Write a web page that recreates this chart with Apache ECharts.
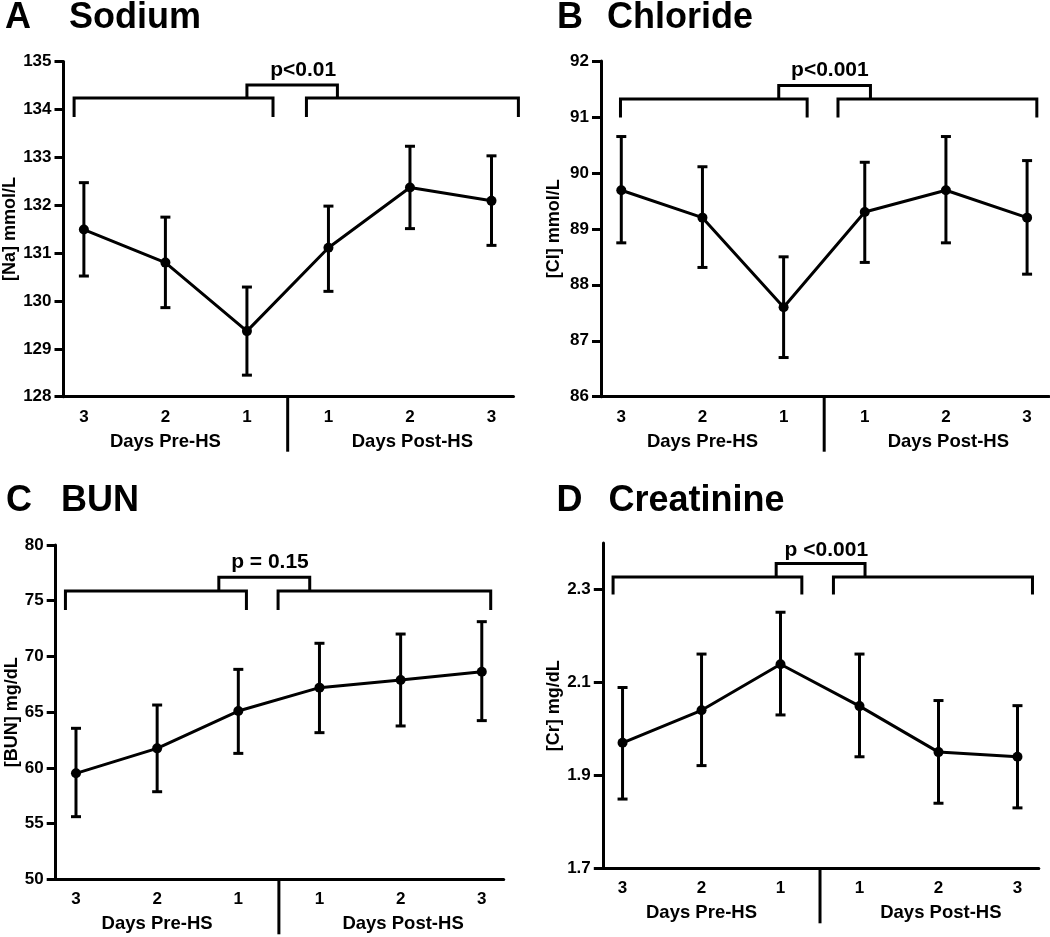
<!DOCTYPE html>
<html><head><meta charset="utf-8">
<script src="https://cdn.jsdelivr.net/npm/echarts@6/dist/echarts.min.js"></script>
<style>html,body{margin:0;padding:0;background:#fff}#chart{width:1050px;height:937px}</style>
</head><body><div id="chart"></div>
<script>
// ---- data ----
const dayPositions = [1, 2, 3, 4, 5, 6];
const dayTickLabels = ['3', '2', '1', '1', '2', '3'];
const groupLabels = ['Days Pre-HS', 'Days Post-HS'];
const panelLetters = ['A', 'B', 'C', 'D'];
const panelTitles = ['Sodium', 'Chloride', 'BUN', 'Creatinine'];
const yAxisNames = ['[Na] mmol/L', '[Cl] mmol/L', '[BUN] mg/dL', '[Cr] mg/dL'];
const pLabels = ['p<0.01', 'p<0.001', 'p = 0.15', 'p <0.001'];

const naMean  = [131.49, 130.80, 129.37, 131.11, 132.37, 132.09];
const naUpper = [132.47, 131.75, 130.29, 131.98, 133.23, 133.03];
const naLower = [130.52, 129.86, 128.45, 130.20, 131.51, 131.16];

const clMean  = [89.69, 89.20, 87.60, 89.30, 89.69, 89.20];
const clUpper = [90.65, 90.11, 88.50, 90.19, 90.65, 90.22];
const clLower = [88.75, 88.31, 86.70, 88.40, 88.75, 88.19];

const bunMean  = [59.51, 61.75, 65.10, 67.20, 67.89, 68.63];
const bunUpper = [63.55, 65.64, 68.84, 71.18, 72.01, 73.12];
const bunLower = [55.62, 57.86, 61.30, 63.16, 63.76, 64.24];

const crMean  = [1.970, 2.040, 2.139, 2.049, 1.950, 1.940];
const crUpper = [2.089, 2.161, 2.251, 2.161, 2.061, 2.050];
const crLower = [1.849, 1.921, 2.030, 1.940, 1.840, 1.830];

const naTicks = [128, 129, 130, 131, 132, 133, 134, 135];
const clTicks = [86, 87, 88, 89, 90, 91, 92];
const bunTicks = [50, 55, 60, 65, 70, 75, 80];
const crTicks = [1.7, 1.9, 2.1, 2.3];

// ---- annotation / layout config ----
const panels = [
  { mean: naMean, upper: naUpper, lower: naLower, ticks: naTicks, yMin: 128, yMax: 135, dec: 0,
    grid: { left: 63.5, top: 61.5, width: 450, height: 335.2 }, nameGap: 42,
    bx: [0.88, 3.32, 3.73, 6.33, 3.0, 4.11], by: [134.24, 133.84, 134.51], pPos: [3.69, 134.82],
    title: { lx: 5, tx: 69, y: 18 } },
  { mean: clMean, upper: clUpper, lower: clLower, ticks: clTicks, yMin: 86, yMax: 92, dec: 0,
    grid: { left: 601, top: 61, width: 448, height: 335.7 }, nameGap: 38,
    bx: [0.99, 3.29, 3.67, 6.12, 2.94, 4.07], by: [91.32, 90.99, 91.56], pPos: [3.57, 91.83],
    title: { lx: 557, tx: 607, y: 18 } },
  { mean: bunMean, upper: bunUpper, lower: bunLower, ticks: bunTicks, yMin: 50, yMax: 80, dec: 0,
    grid: { left: 55.7, top: 545, width: 448, height: 334.3 }, nameGap: 34,
    bx: [0.87, 3.10, 3.49, 6.11, 2.76, 3.88], by: [75.87, 74.17, 77.10], pPos: [3.39, 78.5],
    title: { lx: 6, tx: 61, y: 501 } },
  { mean: crMean, upper: crUpper, lower: crLower, ticks: crTicks, yMin: 1.7, yMax: 2.4, dec: 1,
    grid: { left: 602.8, top: 543, width: 436, height: 325.3 }, nameGap: 39,
    bx: [0.88, 3.27, 3.67, 6.19, 2.945, 4.07], by: [2.327, 2.289, 2.356], pPos: [3.58, 2.385],
    title: { lx: 556.5, tx: 608.5, y: 501 } }
];

const FONT = '"Liberation Sans", Arial, sans-serif';
const BLACK = '#000';

const grid = [], xAxis = [], yAxis = [], series = [], graphic = [];

panels.forEach((p, i) => {
  grid.push(Object.assign({ containLabel: false }, p.grid));
  xAxis.push({
    gridIndex: i, type: 'value', min: 0.75, max: 6.27,
    axisLine: { show: true, onZero: false, lineStyle: { color: BLACK, width: 3 } },
    axisTick: { show: false },
    splitLine: { show: false },
    axisLabel: {
      customValues: dayPositions, margin: 12,
      formatter: v => dayTickLabels[Math.round(v) - 1],
      color: BLACK, fontSize: 17, fontWeight: 'bold', fontFamily: FONT
    }
  });
  yAxis.push({
    gridIndex: i, type: 'value', min: p.yMin, max: p.yMax,
    axisLine: { show: true, onZero: false, lineStyle: { color: BLACK, width: 3 } },
    axisTick: { show: true, length: 9, customValues: p.ticks, lineStyle: { color: BLACK, width: 3 } },
    splitLine: { show: false },
    axisLabel: {
      customValues: p.ticks, margin: 12,
      formatter: v => v.toFixed(p.dec),
      color: BLACK, fontSize: 17, fontWeight: 'bold', fontFamily: FONT
    },
    name: yAxisNames[i], nameLocation: 'middle', nameGap: p.nameGap,
    nameTextStyle: { color: BLACK, fontSize: 18, fontWeight: 'bold', fontFamily: FONT }
  });

  // error bars
  series.push({
    type: 'custom', xAxisIndex: i, yAxisIndex: i, z: 3, silent: true,
    data: dayPositions.map((x, j) => [x, p.lower[j], p.upper[j]]),
    encode: { x: 0, y: [1, 2] },
    renderItem: (params, api) => {
      const x = api.value(0);
      const lo = api.coord([x, api.value(1)]);
      const hi = api.coord([x, api.value(2)]);
      const hw = 5;
      const st = { stroke: BLACK, lineWidth: 3 };
      return { type: 'group', children: [
        { type: 'line', shape: { x1: lo[0], y1: lo[1], x2: hi[0], y2: hi[1] }, style: st },
        { type: 'line', shape: { x1: lo[0] - hw, y1: lo[1], x2: lo[0] + hw, y2: lo[1] }, style: st },
        { type: 'line', shape: { x1: hi[0] - hw, y1: hi[1], x2: hi[0] + hw, y2: hi[1] }, style: st }
      ]};
    }
  });

  // mean line
  series.push({
    type: 'line', xAxisIndex: i, yAxisIndex: i, z: 4, silent: true,
    data: dayPositions.map((x, j) => [x, p.mean[j]]),
    symbol: 'circle', symbolSize: 10,
    lineStyle: { color: BLACK, width: 3 },
    itemStyle: { color: BLACK },
    animation: false
  });

  // brackets + p label + divider + group labels
  series.push({
    type: 'custom', xAxisIndex: i, yAxisIndex: i, z: 2, silent: true, clip: false,
    data: [[3.5, p.yMin]],
    renderItem: (params, api) => {
      const c = (x, y) => api.coord([x, y]);
      const bx = p.bx, by = p.by;
      const st = { stroke: BLACK, lineWidth: 3, fill: null };
      const L = [c(bx[0], by[1]), c(bx[0], by[0]), c(bx[1], by[0]), c(bx[1], by[1])];
      const R = [c(bx[2], by[1]), c(bx[2], by[0]), c(bx[3], by[0]), c(bx[3], by[1])];
      const T = [c(bx[4], by[0]), c(bx[4], by[2]), c(bx[5], by[2]), c(bx[5], by[0])];
      const pp = c(p.pPos[0], p.pPos[1]);
      const base = c(3.5, p.yMin);
      const g1 = c(2, p.yMin), g2 = c(5.03, p.yMin);
      return { type: 'group', children: [
        { type: 'polyline', shape: { points: L }, style: st },
        { type: 'polyline', shape: { points: R }, style: st },
        { type: 'polyline', shape: { points: T }, style: st },
        { type: 'text', x: pp[0], y: pp[1], style: { text: pLabels[i], fill: BLACK,
          font: 'bold 21px ' + FONT, align: 'center', verticalAlign: 'middle' } },
        { type: 'line', shape: { x1: base[0], y1: base[1], x2: base[0], y2: base[1] + 55 }, style: st },
        { type: 'text', x: g1[0], y: g1[1] + 45, style: { text: groupLabels[0], fill: BLACK,
          font: 'bold 18.5px ' + FONT, align: 'center', verticalAlign: 'middle' } },
        { type: 'text', x: g2[0], y: g2[1] + 45, style: { text: groupLabels[1], fill: BLACK,
          font: 'bold 18.5px ' + FONT, align: 'center', verticalAlign: 'middle' } }
      ]};
    }
  });

  graphic.push({ type: 'text', x: p.title.lx, y: p.title.y, style: { text: panelLetters[i], fill: BLACK,
    font: 'bold 36px ' + FONT, verticalAlign: 'middle' } });
  graphic.push({ type: 'text', x: p.title.tx, y: p.title.y, style: { text: panelTitles[i], fill: BLACK,
    font: 'bold 36px ' + FONT, verticalAlign: 'middle' } });
});

const chart = echarts.init(document.getElementById('chart'), null, { renderer: 'canvas' });
chart.setOption({ backgroundColor: '#fff', animation: false, grid, xAxis, yAxis, series, graphic });
</script>
</body></html>
